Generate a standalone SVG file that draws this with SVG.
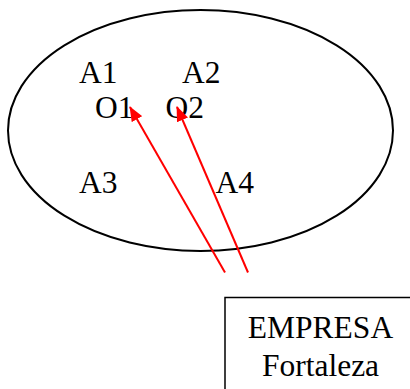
<svg xmlns="http://www.w3.org/2000/svg" width="410" height="389" viewBox="0 0 410 389">
<style>
text{font-family:"Liberation Serif","Times New Roman",serif;font-size:31.5px;fill:#000}
.c{stroke:#ff0000;stroke-width:2;fill:none}
</style>
<defs>
<marker id="ah" viewBox="0 0 15 12" refX="14" refY="6" markerWidth="15" markerHeight="12" markerUnits="userSpaceOnUse" orient="auto">
<path d="M0,0 L15,6 L0,12 z" fill="#ff0000"/>
</marker>
</defs>
<rect width="410" height="389" fill="#fff"/>
<g id="empresa-ellipse">
<ellipse cx="200.5" cy="130.5" rx="192.5" ry="120.5" fill="none" stroke="#000" stroke-width="2"/>
<text x="79" y="83">A1</text>
<text x="182" y="83">A2</text>
<text x="95" y="118">O1</text>
<text x="165.5" y="118">O2</text>
<text x="79" y="193">A3</text>
<text x="215.5" y="193">A4</text>
</g>
<g id="connectors">
<line class="c" x1="225" y1="272.5" x2="130" y2="107" marker-end="url(#ah)"/>
<line class="c" x1="248" y1="272.5" x2="177" y2="107" marker-end="url(#ah)"/>
</g>
<g id="empresa-fortaleza">
<rect x="225" y="297.5" width="200" height="110" fill="none" stroke="#000" stroke-width="1.5"/>
<text x="320.5" y="337.5" text-anchor="middle">EMPRESA</text>
<text x="320.5" y="376" text-anchor="middle">Fortaleza</text>
</g>
</svg>
